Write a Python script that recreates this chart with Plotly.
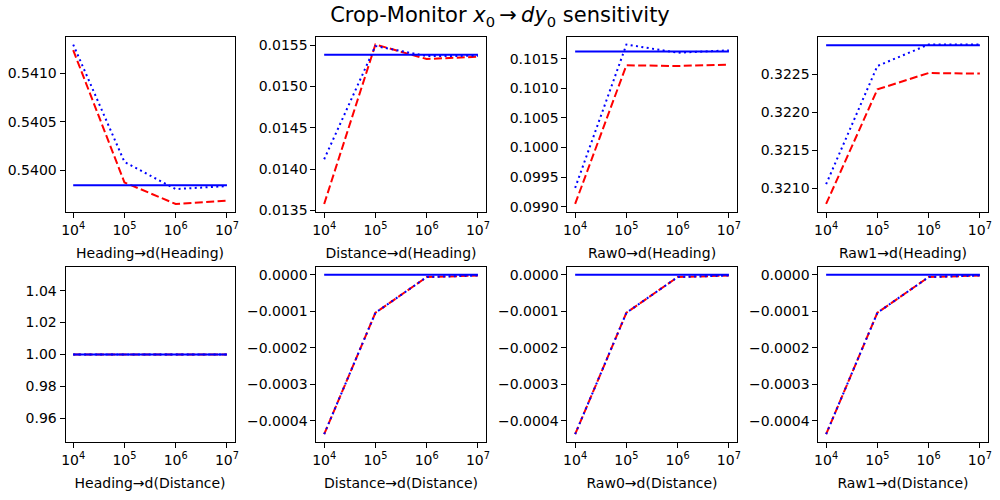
import plotly.graph_objects as go

# ---------------- data ----------------
n_samples = [1e4, 1e5, 1e6, 1e7]
x_tick_vals = [1e4, 1e5, 1e6, 1e7]
x_tick_text = ["10<sup>4</sup>", "10<sup>5</sup>", "10<sup>6</sup>", "10<sup>7</sup>"]

panel_labels = [
    "Heading→d(Heading)", "Distance→d(Heading)", "Raw0→d(Heading)", "Raw1→d(Heading)",
    "Heading→d(Distance)", "Distance→d(Distance)", "Raw0→d(Distance)", "Raw1→d(Distance)",
]

# red dashed series
dashed_vals = [
    [0.541238, 0.539875, 0.539653, 0.539687],
    [0.013579, 0.015508, 0.015333, 0.015360],
    [0.099045, 0.101388, 0.101376, 0.101400],
    [0.320791, 0.322304, 0.322521, 0.322513],
    [1.0, 1.0, 1.0, 1.0],
    [-0.000436, -0.000104, -0.0000065, -0.000002],
    [-0.000436, -0.000104, -0.0000065, -0.000002],
    [-0.000436, -0.000104, -0.0000065, -0.000002],
]
# blue dotted series
dotted_vals = [
    [0.541296, 0.540086, 0.539806, 0.539837],
    [0.014120, 0.015490, 0.015368, 0.015372],
    [0.099316, 0.101739, 0.101600, 0.101640],
    [0.321052, 0.322613, 0.322897, 0.322897],
    [1.0, 1.0, 1.0, 1.0],
    [-0.000436, -0.000104, -0.0000065, -0.000002],
    [-0.000436, -0.000104, -0.0000065, -0.000002],
    [-0.000436, -0.000104, -0.0000065, -0.000002],
]
# blue solid reference value
reference_vals = [0.539847, 0.015384, 0.101622, 0.322888, 1.0, 0.0, 0.0, 0.0]

y_tick_vals = [
    [0.5400, 0.5405, 0.5410],
    [0.0135, 0.0140, 0.0145, 0.0150, 0.0155],
    [0.0990, 0.0995, 0.1000, 0.1005, 0.1010, 0.1015],
    [0.3210, 0.3215, 0.3220, 0.3225],
    [0.96, 0.98, 1.00, 1.02, 1.04],
    [-0.0004, -0.0003, -0.0002, -0.0001, 0.0],
    [-0.0004, -0.0003, -0.0002, -0.0001, 0.0],
    [-0.0004, -0.0003, -0.0002, -0.0001, 0.0],
]
y_tick_text = [
    ["0.5400", "0.5405", "0.5410"],
    ["0.0135", "0.0140", "0.0145", "0.0150", "0.0155"],
    ["0.0990", "0.0995", "0.1000", "0.1005", "0.1010", "0.1015"],
    ["0.3210", "0.3215", "0.3220", "0.3225"],
    ["0.96", "0.98", "1.00", "1.02", "1.04"],
    ["−0.0004", "−0.0003", "−0.0002", "−0.0001", "0.0000"],
    ["−0.0004", "−0.0003", "−0.0002", "−0.0001", "0.0000"],
    ["−0.0004", "−0.0003", "−0.0002", "−0.0001", "0.0000"],
]

# ---------------- layout helpers ----------------
W, H = 1000, 500
col_left_px = [62, 315, 568, 821]
col_width_px = 170.5
row_top_px = [37, 270]
row_height_px = 177.5

FONT = "DejaVu Sans, Liberation Sans, sans-serif"
RED = "#ff0000"
BLUE = "#0000ff"


def y_range(i):
    vals = dashed_vals[i] + dotted_vals[i] + [reference_vals[i]]
    lo, hi = min(vals), max(vals)
    if hi - lo < 1e-12:
        lo, hi = lo - 0.05 * abs(lo), hi + 0.05 * abs(hi)
    m = 0.05 * (hi - lo)
    return [lo - m, hi + m]


fig = go.Figure()
layout = dict(
    width=W, height=H,
    margin=dict(l=0, r=0, t=0, b=0),
    paper_bgcolor="white", plot_bgcolor="white",
    showlegend=False,
    font=dict(family=FONT, size=14, color="black"),
    title=dict(
        text="Crop-Monitor <i>x</i><sub>0</sub>\u2009→\u2009<i>dy</i><sub>0</sub> sensitivity",
        x=0.5, xanchor="center", y=1 - 15 / H, yanchor="middle",
        font=dict(family=FONT, size=21, color="black"),
    ),
)

for i in range(8):
    r, c = divmod(i, 4)
    sfx = "" if i == 0 else str(i + 1)
    xa, ya = "x" + sfx, "y" + sfx

    fig.add_trace(go.Scatter(x=n_samples, y=dashed_vals[i], mode="lines", xaxis=xa, yaxis=ya,
                             line=dict(color=RED, width=2, dash="8px,3.4px")))
    fig.add_trace(go.Scatter(x=n_samples, y=dotted_vals[i], mode="lines", xaxis=xa, yaxis=ya,
                             line=dict(color=BLUE, width=2, dash="2px,3.4px")))
    fig.add_trace(go.Scatter(x=n_samples, y=[reference_vals[i]] * len(n_samples), mode="lines",
                             xaxis=xa, yaxis=ya, line=dict(color=BLUE, width=2)))

    x0 = col_left_px[c] / W
    x1 = (col_left_px[c] + col_width_px) / W
    y1 = 1 - row_top_px[r] / H
    y0 = 1 - (row_top_px[r] + row_height_px) / H

    common = dict(showline=True, mirror=True, linecolor="black", linewidth=1,
                  ticks="outside", ticklen=5, tickwidth=1, tickcolor="black",
                  showgrid=False, zeroline=False,
                  tickfont=dict(family=FONT, size=14, color="black"))

    layout["xaxis" + sfx] = dict(
        domain=[x0, x1], anchor=ya, type="log", range=[3.85, 7.15],
        tickmode="array", tickvals=x_tick_vals, ticktext=x_tick_text,
        title=dict(text=panel_labels[i], standoff=11, font=dict(family=FONT, size=14, color="black")),
        **common,
    )
    layout["yaxis" + sfx] = dict(
        domain=[y0, y1], anchor=xa, range=y_range(i),
        tickmode="array", tickvals=y_tick_vals[i], ticktext=y_tick_text[i],
        **common,
    )

fig.update_layout(**layout)
fig.write_html("out.html", config={"displayModeBar": False},
               post_script="document.body.style.margin='0';document.body.style.overflow='hidden';")
